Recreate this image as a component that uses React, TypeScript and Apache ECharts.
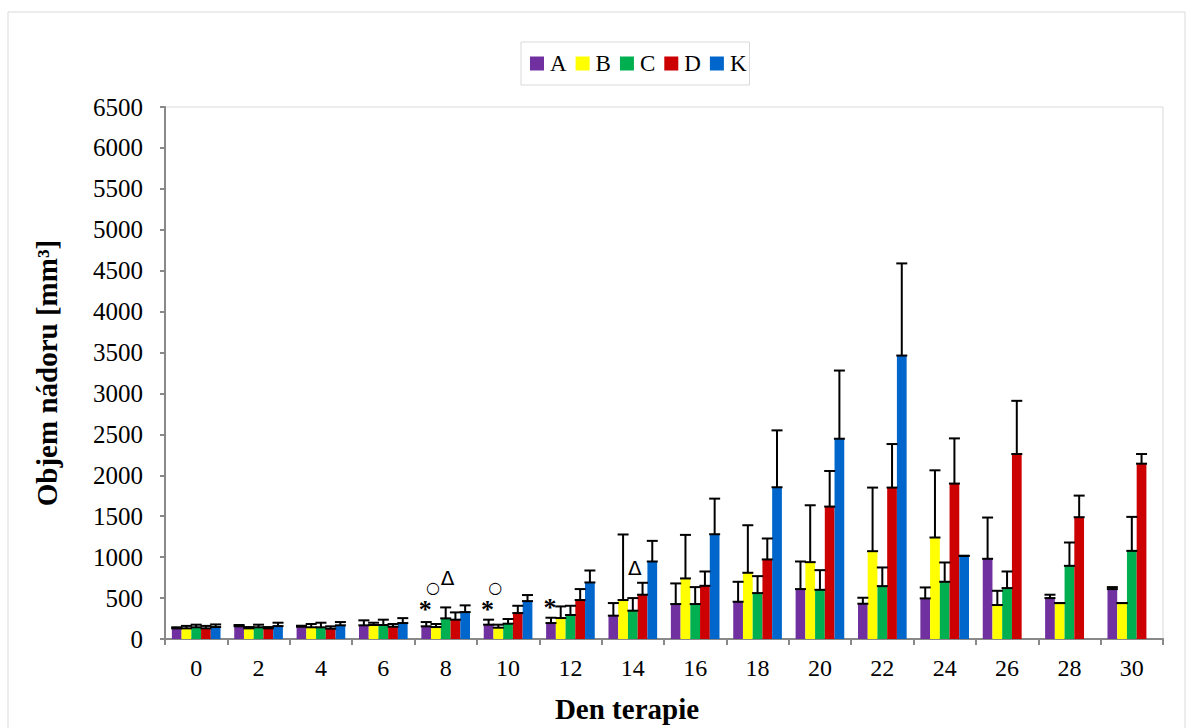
import React, { useEffect, useRef } from "react";
import * as echarts from "echarts";

const days = ["0", "2", "4", "6", "8", "10", "12", "14", "16", "18", "20", "22", "24", "26", "28", "30"];
const seriesNames = ["A", "B", "C", "D", "K"];
const colors = ["#7030A0", "#FFFF00", "#00B050", "#CC0000", "#0066CC"];

const valA = [130, 155, 150, 167, 155, 175, 195, 285, 427, 455, 610, 431, 496, 980, 500, 610];
const valB = [130, 130, 143, 171, 146, 138, 256, 476, 740, 809, 939, 1073, 1240, 415, 439, 439];
const valC = [143, 143, 143, 171, 252, 187, 293, 346, 427, 561, 601, 646, 699, 622, 894, 1077];
const valD = [130, 130, 126, 150, 236, 317, 476, 541, 650, 972, 1618, 1850, 1899, 2260, 1488, 2142];
const valK = [146, 158, 167, 195, 329, 463, 691, 947, 1280, 1854, 2447, 3463, 1016, null, null, null];

const errA = [13, 16, 12, 61, 52, 61, 65, 154, 252, 244, 337, 73, 134, 504, 41, 24];
const errB = [30, 16, 40, 28, 37, 37, 142, 801, 532, 581, 695, 777, 821, 174, 0, 0];
const errC = [32, 32, 56, 65, 134, 57, 113, 154, 207, 207, 240, 228, 236, 203, 285, 415];
const errD = [30, 16, 29, 33, 89, 89, 134, 146, 175, 256, 435, 532, 552, 650, 264, 118];
const errK = [32, 41, 40, 60, 82, 74, 146, 252, 435, 695, 833, 1126, 0, null, null, null];

// significance marks: [day index, bar index, value height, symbol]
const marks: [number, number, number, string][] = [
  [4, 0, 427, "*"],
  [4, 1, 634, "○"],
  [4, 2, 740, "Δ"],
  [5, 0, 427, "*"],
  [5, 1, 634, "○"],
  [6, 0, 440, "*"],
  [7, 2, 870, "Δ"],
];

const yTicks = { min: 0, max: 6500, interval: 500 };

const allVals = [valA, valB, valC, valD, valK];
const allErrs = [errA, errB, errC, errD, errK];
const GAP = 0.22;

export default function App() {
  const ref = useRef<HTMLDivElement>(null);
  useEffect(() => {
    if (!ref.current) return;
    const chart = echarts.init(ref.current, undefined, { renderer: "svg" });
    const font = "Liberation Serif";

    const errData: any[] = [];
    allVals.forEach((vals, si) => {
      vals.forEach((v, di) => {
        const e = allErrs[si][di];
        if (v != null && e != null) errData.push([di, si, v, e]);
      });
    });

    const barOffset = (api: any, si: number) => {
      const band = api.size([1, 0])[0];
      const gw = band * (1 - GAP);
      const bw = gw / 5;
      return -gw / 2 + bw * (si + 0.5);
    };

    const option: any = {
      animation: false,
      backgroundColor: "#ffffff",
      textStyle: { fontFamily: font },
      graphic: [
        {
          type: "rect",
          shape: { x: 8, y: 12, width: 1177, height: 730 },
          style: { fill: "none", stroke: "#d9d9d9", lineWidth: 1 },
          silent: true,
        },
      ],
      legend: {
        data: seriesNames,
        left: 521,
        top: 42,
        orient: "horizontal",
        itemWidth: 14,
        itemHeight: 14,
        itemGap: 9,
        padding: [10, 3, 10, 9],
        borderColor: "#d9d9d9",
        borderWidth: 1,
        icon: "rect",
        textStyle: { fontFamily: font, fontSize: 23, color: "#000", padding: [0, 0, 0, 1] },
      },
      grid: { left: 165, top: 107, right: 29, bottom: 88, show: true, borderColor: "#d9d9d9", borderWidth: 1 },
      xAxis: {
        type: "category",
        data: days,
        name: "Den terapie",
        nameLocation: "middle",
        nameGap: 55,
        nameTextStyle: { fontFamily: font, fontSize: 29, fontWeight: "bold", color: "#000", padding: [0, 74, 0, 0] },
        axisLine: { lineStyle: { color: "#898989", width: 2 } },
        axisTick: { show: true, length: 6, lineStyle: { color: "#898989", width: 2 } },
        axisLabel: { fontFamily: font, fontSize: 24, color: "#000", margin: 17 },
      },
      yAxis: {
        type: "value",
        min: yTicks.min,
        max: yTicks.max,
        interval: yTicks.interval,
        name: "Objem nádoru [mm³]",
        nameLocation: "middle",
        nameGap: 104,
        nameTextStyle: { fontFamily: font, fontSize: 29, fontWeight: "bold", color: "#000" },
        axisLine: { show: true, lineStyle: { color: "#898989", width: 2 } },
        axisTick: { show: true, length: 5, lineStyle: { color: "#898989", width: 2 } },
        axisLabel: { fontFamily: font, fontSize: 25, color: "#000", margin: 22, formatter: (v: number) => String(v) },
        splitLine: { show: false },
      },
      series: [
        ...seriesNames.map((n, i) => ({
          name: n,
          type: "bar",
          data: allVals[i],
          barGap: "0%",
          barCategoryGap: GAP * 100 + "%",
          itemStyle: { color: colors[i] },
          z: 2,
        })),
        {
          type: "custom",
          name: "err",
          data: errData,
          z: 5,
          renderItem: (params: any, api: any) => {
            const di = api.value(0);
            const si = api.value(1);
            const v = api.value(2);
            const e = api.value(3);
            const x = api.coord([di, 0])[0] + barOffset(api, si);
            const y0 = api.coord([di, v])[1];
            const y1 = api.coord([di, v + e])[1];
            const cap = 5.5;
            const st = { stroke: "#000", lineWidth: 2 };
            return {
              type: "group",
              children: [
                { type: "line", shape: { x1: x, y1: y0, x2: x, y2: y1 }, style: st },
                { type: "line", shape: { x1: x - cap, y1: y1, x2: x + cap, y2: y1 }, style: st },
                { type: "line", shape: { x1: x - cap, y1: y0, x2: x + cap, y2: y0 }, style: st },
              ],
            };
          },
        },
        {
          type: "custom",
          name: "marks",
          data: marks,
          z: 6,
          renderItem: (params: any, api: any) => {
            const di = api.value(0);
            const si = api.value(1);
            const v = api.value(2);
            const m = marks[params.dataIndex][3];
            const x = api.coord([di, 0])[0] + barOffset(api, si);
            const y = api.coord([di, v])[1];
            const isStar = m === "*";
            const isCircle = m === "○";
            const style = isStar
              ? "bold 26px Liberation Serif"
              : isCircle
              ? "16px DejaVu Sans"
              : "20px DejaVu Sans";
            return {
              type: "text",
              x: isCircle ? x - 3 : isStar ? x - 1 : x + 2,
              y: isStar ? y + 5 : y,
              style: {
                text: m,
                fill: "#000",
                font: style,
                lineHeight: isStar ? 12 : isCircle ? 12 : 14,
                align: "center",
                verticalAlign: "middle",
              },
            };
          },
        },
      ],
    };
    chart.setOption(option);
    return () => chart.dispose();
  }, []);
  return <div ref={ref} style={{ width: 1192, height: 728, position: "absolute", left: 0, top: 0 }} />;
}
